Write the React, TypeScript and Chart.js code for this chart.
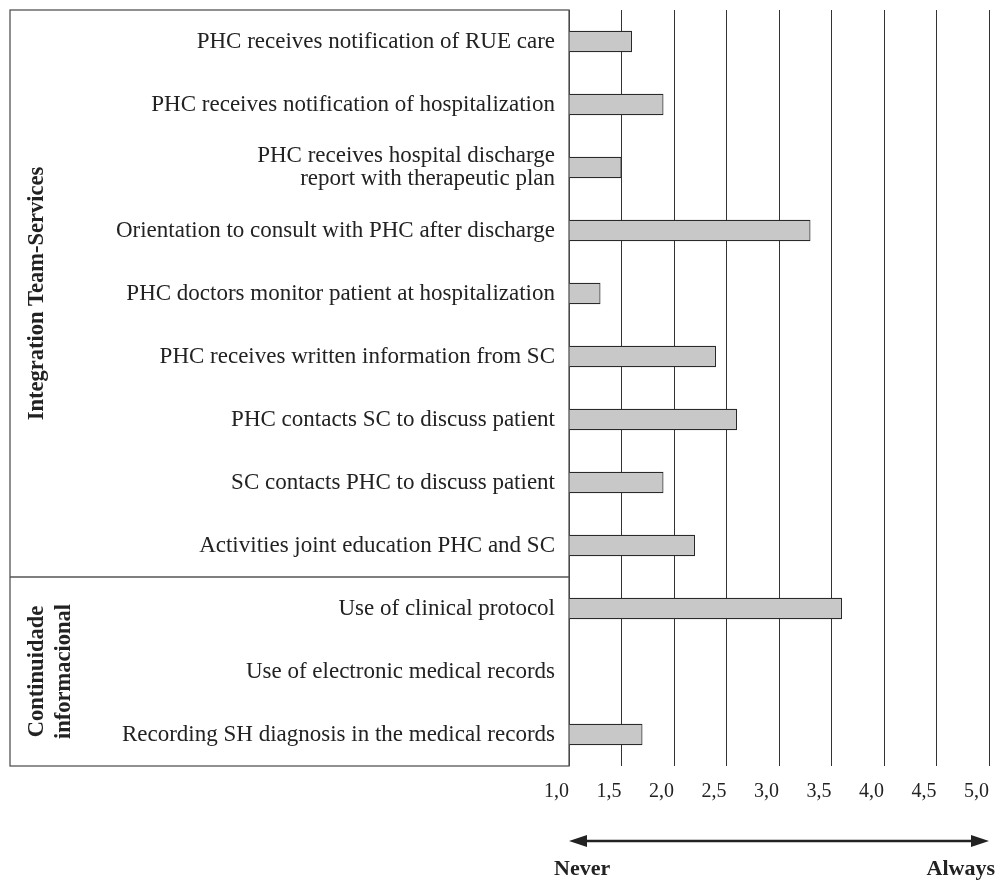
import React, { useEffect, useRef } from 'react';
import { Chart, registerables } from 'chart.js';

Chart.register(...registerables);

const categories: (string | string[])[] = [
  'PHC receives notification of RUE care',
  'PHC receives notification of hospitalization',
  ['PHC receives hospital discharge', 'report with therapeutic plan'],
  'Orientation to consult with PHC after discharge',
  'PHC doctors monitor patient at hospitalization',
  'PHC receives written information from SC',
  'PHC contacts SC to discuss patient',
  'SC contacts PHC to discuss patient',
  'Activities joint education PHC and SC',
  'Use of clinical protocol',
  'Use of electronic medical records',
  'Recording SH diagnosis in the medical records',
];
const scores: (number | null)[] = [1.6, 1.9, 1.5, 3.3, 1.3, 2.4, 2.6, 1.9, 2.2, 3.6, null, 1.7];
const groupNames: string[][] = [['Integration Team-Services'], ['Continuidade', 'informacional']];
const groupSizes = [9, 3];
const scaleMin = 1.0;
const scaleMax = 5.0;
const scaleStep = 0.5;
const scaleEnds = ['Never', 'Always'];

const SERIF = '"Liberation Serif", "Times New Roman", serif';

const zeroPad = (s: any) => {
  s.paddingTop = 0;
  s.paddingBottom = 0;
  s.paddingLeft = 0;
  s.paddingRight = 0;
};

const decorPlugin = {
  id: 'decor',
  afterDraw(chart: any) {
    const { ctx, chartArea, scales } = chart;
    const x = scales.x;
    const y = scales.y;
    const boxLeft = 10;
    const boxRight = chartArea.left;
    const top = chartArea.top;
    const bottom = chartArea.bottom;
    ctx.save();
    ctx.strokeStyle = '#555';
    ctx.lineWidth = 1.3;
    ctx.strokeRect(boxLeft, top, boxRight - boxLeft, bottom - top);
    let start = 0;
    groupNames.forEach((lines, gi) => {
      const end = start + groupSizes[gi] - 1;
      const yTop = start === 0 ? top : (y.getPixelForValue(start - 1) + y.getPixelForValue(start)) / 2;
      const yBot = end === categories.length - 1 ? bottom : (y.getPixelForValue(end) + y.getPixelForValue(end + 1)) / 2;
      if (gi > 0) {
        ctx.beginPath();
        ctx.moveTo(boxLeft, yTop);
        ctx.lineTo(boxRight, yTop);
        ctx.stroke();
      }
      const cy = (yTop + yBot) / 2;
      ctx.save();
      ctx.translate(boxLeft + 27, cy);
      ctx.rotate(-Math.PI / 2);
      ctx.fillStyle = '#222';
      ctx.font = `bold 22.5px ${SERIF}`;
      ctx.textAlign = 'center';
      ctx.textBaseline = 'middle';
      const lh = 27;
      lines.forEach((t, i) => {
        ctx.fillText(t, 0, i * lh);
      });
      ctx.restore();
      start = end + 1;
    });
    const ax0 = x.getPixelForValue(scaleMin);
    const ax1 = x.getPixelForValue(scaleMax);
    const ay = 841;
    const ah = 18;
    const aw = 6;
    ctx.strokeStyle = '#222';
    ctx.fillStyle = '#222';
    ctx.lineWidth = 2.5;
    ctx.beginPath();
    ctx.moveTo(ax0 + ah - 2, ay);
    ctx.lineTo(ax1 - ah + 2, ay);
    ctx.stroke();
    ctx.beginPath();
    ctx.moveTo(ax0, ay);
    ctx.lineTo(ax0 + ah, ay - aw);
    ctx.lineTo(ax0 + ah, ay + aw);
    ctx.closePath();
    ctx.fill();
    ctx.beginPath();
    ctx.moveTo(ax1, ay);
    ctx.lineTo(ax1 - ah, ay + aw);
    ctx.lineTo(ax1 - ah, ay - aw);
    ctx.closePath();
    ctx.fill();
    ctx.font = `bold 22px ${SERIF}`;
    ctx.textBaseline = 'alphabetic';
    ctx.textAlign = 'left';
    ctx.fillText(scaleEnds[0], ax0 - 15, 875);
    ctx.textAlign = 'right';
    ctx.fillText(scaleEnds[1], ax1 + 6, 875);
    ctx.restore();
  },
};

export default function App() {
  const ref = useRef<HTMLCanvasElement>(null);
  useEffect(() => {
    if (!ref.current) return;
    const chart = new Chart(ref.current, {
      type: 'bar',
      data: {
        labels: categories,
        datasets: [
          {
            data: scores,
            backgroundColor: '#c8c8c8',
            borderColor: '#2a2a2a',
            borderWidth: 1.2,
            borderSkipped: false,
            barPercentage: 0.34,
            categoryPercentage: 1,
          },
        ],
      },
      options: {
        indexAxis: 'y',
        animation: false,
        responsive: false,
        devicePixelRatio: 1,
        layout: { padding: { left: 10, top: 10, right: 7, bottom: 0 } },
        plugins: { legend: { display: false }, tooltip: { enabled: false } },
        scales: {
          x: {
            type: 'linear',
            min: scaleMin,
            max: scaleMax,
            grid: { display: true, drawTicks: false, color: '#333', lineWidth: 1 },
            border: { display: false },
            ticks: {
              stepSize: scaleStep,
              align: 'end',
              padding: 14,
              color: '#222',
              font: { family: SERIF, size: 20 },
              callback: (v: any) => Number(v).toFixed(1).replace('.', ','),
            },
            afterFit: (s: any) => {
              s.height = 114;
              zeroPad(s);
            },
          },
          y: {
            type: 'category',
            grid: { display: false, drawTicks: false },
            border: { display: false },
            ticks: {
              padding: 14,
              color: '#222',
              font: { family: SERIF, size: 23, lineHeight: 1.02 },
              autoSkip: false,
            },
            afterFit: (s: any) => {
              s.width = 559;
              zeroPad(s);
            },
          },
        },
      },
      plugins: [decorPlugin],
    });
    return () => chart.destroy();
  }, []);
  return (
    <div style={{ position: 'absolute', left: 0, top: 0, width: 996, height: 880, background: '#fff' }}>
      <canvas ref={ref} width={996} height={880} style={{ width: 996, height: 880, display: 'block' }} />
    </div>
  );
}
